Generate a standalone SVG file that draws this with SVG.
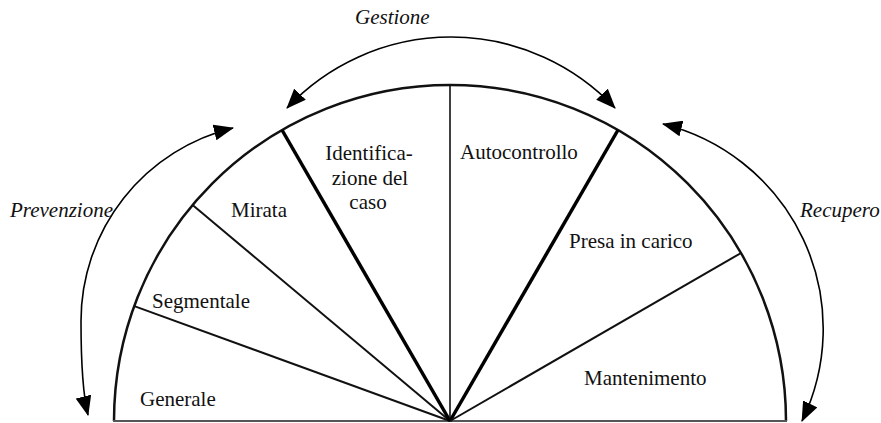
<svg xmlns="http://www.w3.org/2000/svg" width="881" height="423" viewBox="0 0 881 423">
<style>
.lbl{font-family:"Liberation Serif","Times New Roman",serif;font-size:21px;fill:#111}
.it{font-family:"Liberation Serif","Times New Roman",serif;font-size:21px;font-style:italic;fill:#111}
.sp{stroke:#111;stroke-width:2;fill:none}
.thick{stroke:#000;stroke-width:3.5;fill:none}
.arr{stroke:#000;stroke-width:1.6;fill:none;marker-start:url(#ah);marker-end:url(#ah)}
</style>
<defs>
<marker id="ah" markerUnits="userSpaceOnUse" viewBox="0 0 20 16" markerWidth="20" markerHeight="16" refX="19" refY="8" orient="auto-start-reverse">
<path d="M0,0 L20,8 L0,16 z" fill="#000"/>
</marker>
</defs>
<rect width="881" height="423" fill="#fff"/>
<g id="wheel">
<path d="M114,421 A336,336 0 0 1 786,421" stroke="#111" stroke-width="2.5" fill="none"/>
<line x1="113" y1="421" x2="787" y2="421" stroke="#555" stroke-width="2"/>
<line class="sp" x1="450" y1="421" x2="134.3" y2="306.1"/>
<line class="sp" x1="450" y1="421" x2="192.6" y2="205"/>
<line class="thick" x1="450" y1="421" x2="282" y2="130"/>
<line x1="450" y1="421" x2="450" y2="85" stroke="#111" stroke-width="1.6"/>
<line class="thick" x1="450" y1="421" x2="618" y2="130"/>
<line class="sp" x1="450" y1="421" x2="741" y2="253"/>
</g>
<g id="generale"><text class="lbl" x="140" y="406">Generale</text></g>
<g id="segmentale"><text class="lbl" x="152" y="308">Segmentale</text></g>
<g id="mirata"><text class="lbl" x="231" y="217">Mirata</text></g>
<g id="identificazione"><text class="lbl" text-anchor="middle"><tspan x="369" y="160">Identifica-</tspan><tspan x="370" y="185">zione del</tspan><tspan x="368" y="209">caso</tspan></text></g>
<g id="autocontrollo"><text class="lbl" x="460" y="159">Autocontrollo</text></g>
<g id="presa"><text class="lbl" x="569" y="248">Presa in carico</text></g>
<g id="mantenimento"><text class="lbl" x="584" y="385">Mantenimento</text></g>
<g id="connectors">
<path class="arr" d="M287,108 A225,225 0 0 1 615,108"/>
<path class="arr" d="M233,128 A198.7,198.7 0 0 0 81,321 C81,360 83,395 88,415"/>
<path class="arr" d="M663,124 A211,211 0 0 1 802,421"/>
</g>
<g id="labels">
<text class="it" x="355" y="24">Gestione</text>
<text class="it" x="10" y="217">Prevenzione</text>
<text class="it" x="800" y="217">Recupero</text>
</g>
</svg>
